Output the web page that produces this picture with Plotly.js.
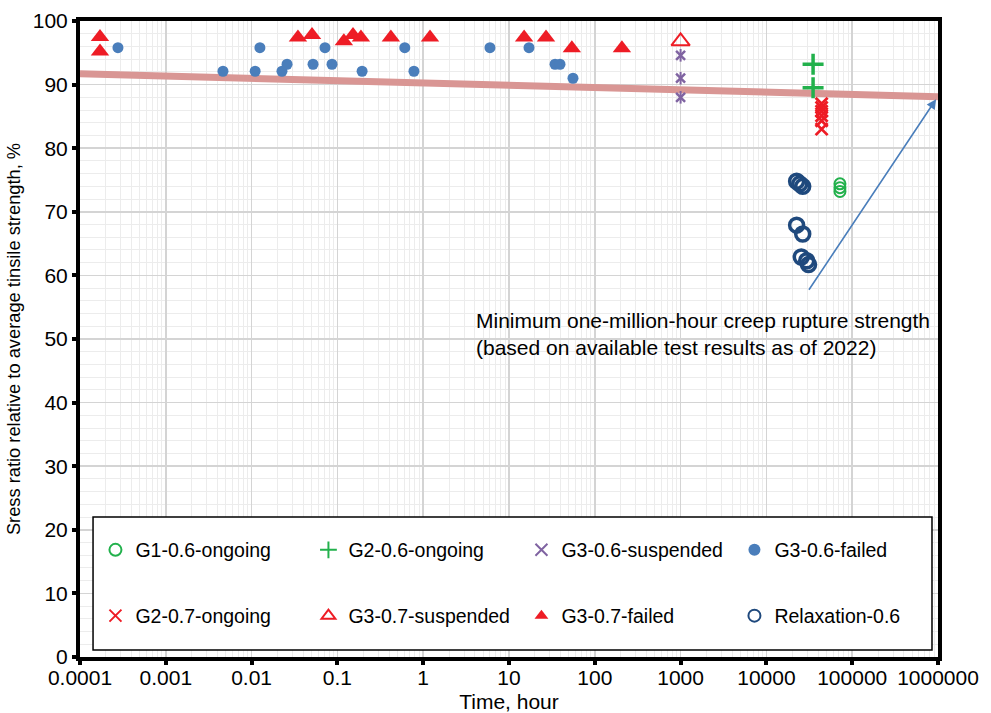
<!DOCTYPE html>
<html>
<head>
<meta charset="utf-8">
<script src="https://cdn.plot.ly/plotly-3.0.1.min.js"></script>
<style>
  html, body { margin: 0; padding: 0; background: #ffffff; }
  #chart { width: 991px; height: 713px; }
</style>
</head>
<body>
<div id="chart"></div>
<script>
// Creep test results: stress ratio vs. time to rupture / time under load

const g1_06_ongoing_t = [72000, 72000, 72000];
const g1_06_ongoing_s = [74.4, 73.8, 73.2];

const g2_06_ongoing_t = [35000, 35000];
const g2_06_ongoing_s = [93.2, 89.5];

const g3_06_suspended_t = [1000, 1000, 1000];
const g3_06_suspended_s = [94.6, 91.0, 88.0];

const g3_06_failed_t = [0.000277, 0.00464, 0.011, 0.0125, 0.0226, 0.0259, 0.052, 0.0717, 0.0865, 0.194,
                        0.61, 0.78, 6.0, 17.1, 34.4, 39.3, 55.7];
const g3_06_failed_s = [95.8, 92.1, 92.1, 95.8, 92.1, 93.2, 93.2, 95.8, 93.2, 92.1,
                        95.8, 92.1, 95.8, 95.8, 93.2, 93.2, 91.0];

const g2_07_ongoing_t = [44000, 44000, 44000, 44000, 44000, 44000];
const g2_07_ongoing_s = [87.0, 86.4, 85.8, 85.1, 84.3, 83.0];

const g3_07_suspended_t = [1000];
const g3_07_suspended_s = [96.8];

const g3_07_failed_t = [0.000171, 0.000171, 0.0347, 0.0506, 0.119, 0.152, 0.188, 0.42, 1.2, 15, 27, 54, 207];
const g3_07_failed_s = [97.5, 95.2, 97.4, 97.8, 96.8, 97.8, 97.4, 97.4, 97.4, 97.4, 97.4, 95.7, 95.7];

const relax_06_t = [22500, 24500, 26500, 22500, 26500, 25500, 29500, 31000];
const relax_06_s = [74.8, 74.4, 74.0, 67.9, 66.5, 62.9, 62.3, 61.7];

// Minimum creep rupture strength line (linear in log time)
const trend_t = [0.0001, 1000000];
const trend_s = [91.7, 88.1];

const xTickVals = [0.0001, 0.001, 0.01, 0.1, 1, 10, 100, 1000, 10000, 100000, 1000000];
const xTickText = ['0.0001', '0.001', '0.01', '0.1', '1', '10', '100', '1000', '10000', '100000', '1000000'];

const noteLines = ['Minimum one-million-hour creep rupture strength',
                   '(based on available test results as of 2022)'];
const arrowTail = [30500, 57.5];
const arrowHead = [950000, 87.7];

const RED = '#ee1c25';
const GREEN = '#22b14c';
const PURPLE = '#8064a2';
const BLUE = '#4a7ebb';
const NAVY = '#1f497d';
const FONT = 'Liberation Sans, Arial, sans-serif';

const traces = [
  {
    x: trend_t, y: trend_s, mode: 'lines', showlegend: false, hoverinfo: 'skip',
    line: { color: '#d99694', width: 7 }
  },
  {
    name: 'G1-0.6-ongoing', legend: 'legend', x: g1_06_ongoing_t, y: g1_06_ongoing_s, mode: 'markers',
    marker: { symbol: 'circle-open', size: 11, color: GREEN, line: { width: 2, color: GREEN } }
  },
  {
    name: 'G2-0.6-ongoing', legend: 'legend', x: g2_06_ongoing_t, y: g2_06_ongoing_s, mode: 'markers',
    marker: { symbol: 'cross-thin-open', size: 15, color: GREEN, line: { width: 3.5, color: GREEN } }
  },
  {
    name: 'G3-0.6-suspended', legend: 'legend', x: g3_06_suspended_t, y: g3_06_suspended_s, mode: 'markers',
    marker: { symbol: 'x-thin-open', size: 9, color: PURPLE, line: { width: 2.5, color: PURPLE } }
  },
  {
    x: g3_06_suspended_t, y: g3_06_suspended_s, mode: 'markers', showlegend: false, hoverinfo: 'skip',
    marker: { symbol: 'line-ns-open', size: 9, color: PURPLE, line: { width: 2, color: PURPLE } }
  },
  {
    name: 'G3-0.6-failed', legend: 'legend', x: g3_06_failed_t, y: g3_06_failed_s, mode: 'markers',
    marker: { symbol: 'circle', size: 11, color: BLUE }
  },
  {
    name: 'G2-0.7-ongoing', legend: 'legend2', x: g2_07_ongoing_t, y: g2_07_ongoing_s, mode: 'markers',
    marker: { symbol: 'x-thin-open', size: 12, color: RED, line: { width: 2.8, color: RED } }
  },
  {
    name: 'G3-0.7-suspended', legend: 'legend2', x: g3_07_suspended_t, y: g3_07_suspended_s, mode: 'markers',
    marker: { symbol: 'triangle-up-open', size: 16, color: RED, line: { width: 2, color: RED } }
  },
  {
    name: 'G3-0.7-failed', legend: 'legend2', x: g3_07_failed_t, y: g3_07_failed_s, mode: 'markers',
    marker: { symbol: 'triangle-up', size: 16, color: RED }
  },
  {
    name: 'Relaxation-0.6', legend: 'legend2', x: relax_06_t, y: relax_06_s, mode: 'markers',
    marker: { symbol: 'circle-open', size: 14, color: NAVY, line: { width: 3.5, color: NAVY } }
  }
];

const legendCommon = {
  orientation: 'h', xanchor: 'left', yanchor: 'middle', x: 0.018,
  entrywidth: 168, entrywidthmode: 'pixels', traceorder: 'normal',
  itemsizing: 'constant',
  bgcolor: 'rgba(0,0,0,0)', borderwidth: 0,
  font: { family: FONT, size: 19.5, color: '#000000' }
};

const layout = {
  width: 991, height: 713,
  margin: { l: 80, r: 53, t: 21, b: 56, pad: 0 },
  paper_bgcolor: '#ffffff', plot_bgcolor: '#ffffff',
  font: { family: FONT, color: '#000000' },
  showlegend: true,
  legend: Object.assign({}, legendCommon, { y: 0.168 }),
  legend2: Object.assign({}, legendCommon, { y: 0.0645 }),
  xaxis: {
    type: 'log', range: [-4, 6], automargin: false,
    tickmode: 'array', tickvals: xTickVals, ticktext: xTickText,
    tickfont: { family: FONT, size: 21 },
    ticklabelstandoff: -5,
    showline: true, linecolor: '#000000', linewidth: 4, mirror: true,
    ticks: 'outside', ticklen: 4, tickwidth: 4, tickcolor: '#000000',
    showgrid: true, gridcolor: '#d4d4d4', gridwidth: 1.5,
    minor: { dtick: 'D1', showgrid: true, gridcolor: '#ececec', gridwidth: 1, ticks: '' },
    zeroline: false,
    title: { text: 'Time, hour', font: { family: FONT, size: 21 }, standoff: 7 }
  },
  yaxis: {
    range: [0, 100], dtick: 10, automargin: false,
    tickfont: { family: FONT, size: 21 },
    showline: true, linecolor: '#000000', linewidth: 4, mirror: true,
    ticks: 'outside', ticklen: 4, tickwidth: 4, tickcolor: '#000000',
    showgrid: true, gridcolor: '#d4d4d4', gridwidth: 1.5,
    minor: { dtick: 2, showgrid: true, gridcolor: '#ececec', gridwidth: 1, ticks: '' },
    zeroline: false,
    title: { text: 'Sress ratio relative to average tinsile strength, %', font: { family: FONT, size: 18.3 }, standoff: 8 }
  },
  shapes: [
    {
      type: 'rect', xref: 'paper', yref: 'paper', layer: 'above',
      x0: 0.0152, x1: 0.993, y0: 0.011, y1: 0.22,
      fillcolor: '#ffffff', line: { color: '#000000', width: 1.5 }
    }
  ],
  annotations: [
    {
      xref: 'x', yref: 'y', x: Math.log10(3.9), y: 50.8,
      xanchor: 'left', yanchor: 'middle', align: 'left', showarrow: false,
      text: noteLines.join('<br>'),
      font: { family: FONT, size: 21, color: '#000000' }
    },
    {
      xref: 'x', yref: 'y', axref: 'x', ayref: 'y',
      x: Math.log10(arrowHead[0]), y: arrowHead[1],
      ax: Math.log10(arrowTail[0]), ay: arrowTail[1],
      text: '', showarrow: true, arrowhead: 2, arrowsize: 1.2, arrowwidth: 1.6,
      arrowcolor: BLUE, standoff: 0
    }
  ]
};

Plotly.newPlot('chart', traces, layout, { displayModeBar: false, staticPlot: true });
</script>
</body>
</html>
